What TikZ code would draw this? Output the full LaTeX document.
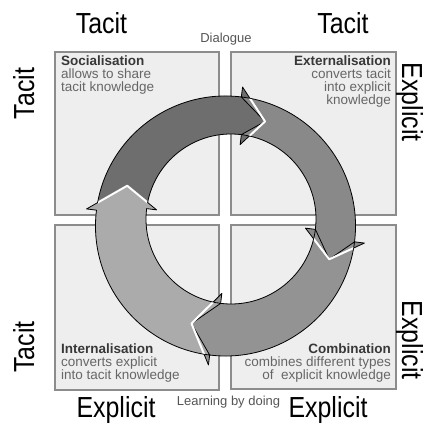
\documentclass[tikz,border=0pt]{standalone}
\usepackage{fontspec}
\setmainfont{Liberation Sans}
\newfontfamily\bigsans{Liberation Sans}[FakeStretch=0.86]
\definecolor{boxfill}{HTML}{EEEEEE}
\definecolor{boxline}{HTML}{8C8C8C}
\definecolor{arcA}{HTML}{6E6E6E}
\definecolor{arcB}{HTML}{898989}
\definecolor{arcC}{HTML}{939393}
\definecolor{arcD}{HTML}{ABABAB}
\definecolor{titlecol}{HTML}{383838}
\definecolor{bodycol}{HTML}{666666}
\definecolor{smallcol}{HTML}{555555}
\newcommand\ringO[2]{({225.5+(130+#2)*cos(#1)},{199+(130+#2)*sin(#1)})}
\newcommand\ringI[2]{({231+(85+#2)*cos(#1)},{206+(85+#2)*sin(#1)})}
\newcommand\ringM[1]{({228.25+107.5*cos(#1)},{202.5+107.5*sin(#1)})}
\begin{document}
\begin{tikzpicture}[x=1pt,y=1pt,
  boxst/.style={draw=boxline, fill=boxfill, line width=1.3pt},
  bigl/.style={font=\bigsans\fontsize{29}{30}\selectfont, inner sep=0pt, anchor=base},
  titlel/.style={font=\bfseries\fontsize{13.5}{14}\selectfont, text=titlecol, inner sep=0pt},
  bodyl/.style={font=\fontsize{13.5}{14}\selectfont, text=bodycol, inner sep=0pt},
  smalll/.style={font=\fontsize{13}{14}\selectfont, text=smallcol, inner sep=0pt, anchor=base},
  arcline/.style={draw=black, line width=0.8pt, line join=round},
]
\useasboundingbox[fill=white] (0,0) rectangle (424,425);
% quadrant boxes
\draw[boxst] (55,210) rectangle (219,373);
\draw[boxst] (231,210) rectangle (396,373);
\draw[boxst] (55,35) rectangle (219,200);
\draw[boxst] (231,36) rectangle (396,200);
% ring sections
\foreach \A/\B/\c in {160/70/arcA, 70/-20/arcB, -20/-110/arcC, -110/-200/arcD}{
  \pgfmathsetmacro\Ah{\A+13}
  \pgfmathsetmacro\Bh{\B+13}
  \filldraw[fill=\c, arcline]
    \ringO{\Ah}{0} arc[start angle=\Ah, end angle=\Bh, radius=130]
    -- \ringO{\Bh}{10} -- \ringM{\B} -- \ringI{\Bh}{(-10)} -- \ringI{\Bh}{0}
    arc[start angle=\Bh, end angle=\Ah, radius=85] -- \ringM{\A} -- cycle;
}
\begin{scope}[even odd rule]
  \clip (225.5,199) circle[radius=129.5] (231,206) circle[radius=85.5];
  \foreach \B in {70,-20,-110,-200}{
    \pgfmathsetmacro\Bh{\B+13}
    \draw[white, line width=2pt, line join=round]
      \ringO{\Bh}{10} -- \ringM{\B} -- \ringI{\Bh}{(-10)};
  }
\end{scope}
% big axis labels
\node[bigl] (t1) at (101.5,391) {Tacit};
\node[bigl] (t2) at (343,391) {Tacit};
\node[bigl, rotate=90] (t3) at (34,331.5) {Tacit};
\node[bigl, rotate=90] (t4) at (34,78) {Tacit};
\node[bigl, rotate=-90] (e1) at (402,323) {Explicit};
\node[bigl, rotate=-90] (e2) at (402,85) {Explicit};
\node[bigl] (e3) at (116,7) {Explicit};
\node[bigl] (e4) at (328,7) {Explicit};
% small labels
\node[smalll] (dia) at (226,382) {Dialogue};
\node[smalll] (lbd) at (228.5,19) {Learning by doing};
% socialisation
\node[titlel, anchor=base west] (s1) at (61,359) {Socialisation};
\node[bodyl, anchor=base west] (s2) at (61,346) {allows to share};
\node[bodyl, anchor=base west] (s3) at (61,333) {tacit knowledge};
% externalisation
\node[titlel, anchor=base east] (x1) at (391,359) {Externalisation};
\node[bodyl, anchor=base east] (x2) at (391,346) {converts tacit};
\node[bodyl, anchor=base east] (x3) at (391,333) {into explicit};
\node[bodyl, anchor=base east] (x4) at (391,320) {knowledge};
% internalisation
\node[titlel, anchor=base west] (i1) at (61,71) {Internalisation};
\node[bodyl, anchor=base west] (i2) at (61,58) {converts explicit};
\node[bodyl, anchor=base west] (i3) at (61,45) {into tacit knowledge};
% combination
\node[titlel, anchor=base east] (c1) at (391,71) {Combination};
\node[bodyl, anchor=base east] (c2) at (391,58) {combines different types};
\node[bodyl, anchor=base east] (c3) at (391,45) {of~ explicit knowledge};
\end{tikzpicture}
\end{document}
